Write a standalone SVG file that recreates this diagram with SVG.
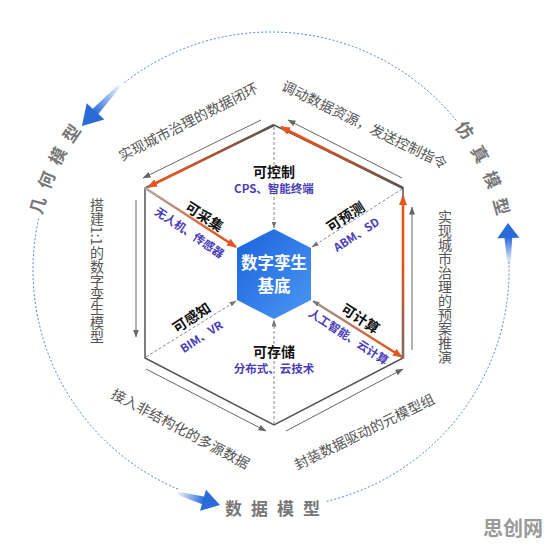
<svg xmlns="http://www.w3.org/2000/svg" width="547" height="547" viewBox="0 0 547 547">
<style>
text{font-family:"Noto Sans CJK SC","Noto Sans",sans-serif}
.edge{fill:none;stroke:#555;stroke-width:1.5}
.thin{fill:none;stroke:#666;stroke-width:1;marker-end:url(#ah-gray)}
.dash{fill:none;stroke:#888;stroke-width:1;stroke-dasharray:3 2;marker-end:url(#ah-dash)}
.orng{fill:none;stroke-width:2.6;marker-end:url(#ah-orange)}
.dot{fill:none;stroke:#4d7fd4;stroke-width:1;stroke-dasharray:2 2}
.side{font-size:14px;fill:#555}
.vside{font-size:14px;fill:#555;writing-mode:vertical-rl}
.lab{font-size:14px;font-weight:700;fill:#111}
.sub{font-size:11.5px;font-weight:700;fill:#4a3db8}
.ring{font-size:17px;font-weight:700;fill:#777}
.core{font-size:16.5px;font-weight:700;fill:#fff}
</style>
<defs>
<marker id="ah-gray" viewBox="0 0 8 6" refX="7.5" refY="3" markerWidth="8" markerHeight="6" markerUnits="userSpaceOnUse" orient="auto"><path d="M0,0 L8,3 L0,6 z" fill="#666"/></marker>
<marker id="ah-orange" viewBox="0 0 10 8" refX="9" refY="4" markerWidth="10" markerHeight="8" markerUnits="userSpaceOnUse" orient="auto"><path d="M0,0 L10,4 L0,8 z" fill="#e4541e"/></marker>
<marker id="ah-dash" viewBox="0 0 7 5" refX="6.5" refY="2.5" markerWidth="7" markerHeight="5" markerUnits="userSpaceOnUse" orient="auto-start-reverse"><path d="M0,0 L7,2.5 L0,5 z" fill="#777"/></marker>
<linearGradient id="gR" gradientUnits="userSpaceOnUse" x1="403" y1="358" x2="403" y2="196"><stop offset="0" stop-color="#7a6a66"/><stop offset="0.6" stop-color="#e4541e"/></linearGradient>
<linearGradient id="gTR" gradientUnits="userSpaceOnUse" x1="403" y1="188" x2="281" y2="127"><stop offset="0" stop-color="#555"/><stop offset="0.8" stop-color="#e4541e"/></linearGradient>
<linearGradient id="gTL" gradientUnits="userSpaceOnUse" x1="274" y1="125" x2="148" y2="187"><stop offset="0" stop-color="#555"/><stop offset="0.8" stop-color="#e4541e"/></linearGradient>
<linearGradient id="gUL" gradientUnits="userSpaceOnUse" x1="145" y1="188" x2="236" y2="247"><stop offset="0" stop-color="#aaa"/><stop offset="0.85" stop-color="#e4541e"/></linearGradient>
<linearGradient id="gLR" gradientUnits="userSpaceOnUse" x1="312" y1="300" x2="402" y2="357"><stop offset="0" stop-color="#999"/><stop offset="0.9" stop-color="#e4541e"/></linearGradient>
<linearGradient id="gHex" x1="0" y1="0" x2="1" y2="1"><stop offset="0" stop-color="#1a62dc"/><stop offset="1" stop-color="#4b98f3"/></linearGradient>
<linearGradient id="gTail" x1="0" y1="0" x2="1" y2="0"><stop offset="0" stop-color="#2a6bd8" stop-opacity="0.05"/><stop offset="1" stop-color="#2a6bd8"/></linearGradient>
</defs>

<!-- outer dotted ring -->
<g id="ring">
<path class="dot" d="M124.5,82.5 A238,238 0 0 1 457.3,121.8"/>
<path class="dot" d="M178,489.1 A238,238 0 0 1 39.1,216.5"/>
<path class="dot" d="M508.9,261.7 A238,238 0 0 1 326.6,501.4"/>
</g>

<g id="arrow-geo" transform="translate(120,85) rotate(132.8)">
<path d="M0,-1.5 L38,-4 L38,4 L0,1.5 z" fill="url(#gTail)"/>
<path d="M36,-12 L56,0 L36,12 z" fill="#2a6bd8"/>
</g>
<g id="arrow-data" transform="translate(177,493) rotate(15.6)">
<path d="M0,-1.5 L28,-4 L28,4 L0,1.5 z" fill="url(#gTail)"/>
<path d="M27,-11 L44.6,0 L27,11 z" fill="#2a6bd8"/>
</g>
<g id="arrow-sim" transform="translate(509,264) rotate(-91.4)">
<path d="M0,-1.5 L27,-4 L27,4 L0,1.5 z" fill="url(#gTail)"/>
<path d="M26,-11 L41,0 L26,11 z" fill="#2a6bd8"/>
</g>

<g id="label-geo">
<text class="ring" text-anchor="middle" dominant-baseline="central" transform="translate(36.8,205.1) rotate(-74.5)">几</text>
<text class="ring" text-anchor="middle" dominant-baseline="central" transform="translate(45.4,179.8) rotate(-68.2)">何</text>
<text class="ring" text-anchor="middle" dominant-baseline="central" transform="translate(56.6,155.5) rotate(-61.9)">模</text>
<text class="ring" text-anchor="middle" dominant-baseline="central" transform="translate(70.5,132.7) rotate(-55.6)">型</text>
</g>
<g id="label-sim">
<text class="ring" text-anchor="middle" dominant-baseline="central" transform="translate(465.7,129.6) rotate(54.2)">仿</text>
<text class="ring" text-anchor="middle" dominant-baseline="central" transform="translate(480.9,153.6) rotate(61)">真</text>
<text class="ring" text-anchor="middle" dominant-baseline="central" transform="translate(493.2,179.3) rotate(67.8)">模</text>
<text class="ring" text-anchor="middle" dominant-baseline="central" transform="translate(502.4,206.3) rotate(74.6)">型</text>
</g>
<g id="label-data">
<text class="ring" x="277" y="507" text-anchor="middle" dominant-baseline="central" letter-spacing="9">数据模型</text>
</g>

<!-- outer hexagon -->
<g id="outer-hex">
<polygon class="edge" points="274,125 403,188 403,358 274,425 145,358 145,188"/>
</g>

<!-- connectors -->
<g id="connectors">
<line class="thin" x1="261" y1="120" x2="143" y2="178"/>
<line class="thin" x1="402" y1="178" x2="288" y2="120"/>
<line class="thin" x1="136" y1="200" x2="136" y2="337"/>
<line class="thin" x1="412" y1="350" x2="412" y2="207"/>
<line class="thin" x1="146" y1="369" x2="266" y2="431"/>
<line class="thin" x1="286" y1="431" x2="403" y2="369"/>

<line class="orng" stroke="url(#gR)" x1="403" y1="358" x2="403" y2="196"/>
<line class="orng" stroke="url(#gTR)" x1="403" y1="188" x2="281" y2="127"/>
<line class="orng" stroke="url(#gTL)" x1="274" y1="125" x2="148" y2="187"/>
<line class="orng" stroke="url(#gUL)" x1="145" y1="188" x2="236" y2="247"/>
<line class="orng" stroke="url(#gLR)" stroke-width="2" x1="313" y1="301" x2="402" y2="357" marker-start="url(#ah-dash)"/>

<line class="dash" x1="274" y1="127" x2="274" y2="228"/>
<line class="dash" x1="402" y1="189" x2="312" y2="247"/>
<line class="dash" x1="146" y1="357" x2="236" y2="301"/>
<line class="dash" x1="274" y1="424" x2="274" y2="320"/>
</g>

<!-- side texts -->
<g id="side-texts">
<text class="side" text-anchor="middle" dominant-baseline="central" transform="translate(188,121) rotate(-27)">实现城市治理的数据闭环</text>
<text class="side" text-anchor="middle" dominant-baseline="central" transform="translate(365,124) rotate(26)">调动数据资源，发送控制指令</text>
<text class="side" text-anchor="middle" dominant-baseline="central" transform="translate(181,428) rotate(28)">接入非结构化的多源数据</text>
<text class="side" text-anchor="middle" dominant-baseline="central" transform="translate(364,431) rotate(-26)">封装数据驱动的元模型组</text>
<text class="vside" x="97" y="198">搭建1:1的数字孪生模型</text>
<text class="vside" x="445" y="210">实现城市治理的预案推演</text>
</g>

<g id="node-control">
<text class="lab" x="274" y="171" text-anchor="middle" dominant-baseline="central">可控制</text>
<text class="sub" x="274" y="188" text-anchor="middle" dominant-baseline="central">CPS、智能终端</text>
</g>
<g id="node-collect">
<text class="lab" text-anchor="middle" dominant-baseline="central" transform="translate(205,216) rotate(33)">可采集</text>
<text class="sub" text-anchor="middle" dominant-baseline="central" transform="translate(190,232) rotate(34)">无人机、传感器</text>
</g>
<g id="node-predict">
<text class="lab" text-anchor="middle" dominant-baseline="central" transform="translate(345,216) rotate(-33)">可预测</text>
<text class="sub" text-anchor="middle" dominant-baseline="central" transform="translate(356,234) rotate(-33)">ABM、SD</text>
</g>
<g id="node-sense">
<text class="lab" text-anchor="middle" dominant-baseline="central" transform="translate(191,317) rotate(-33)">可感知</text>
<text class="sub" text-anchor="middle" dominant-baseline="central" transform="translate(201,336) rotate(-33)">BIM、VR</text>
</g>
<g id="node-store">
<text class="lab" x="274" y="351" text-anchor="middle" dominant-baseline="central">可存储</text>
<text class="sub" x="274" y="368" text-anchor="middle" dominant-baseline="central">分布式、云技术</text>
</g>
<g id="node-compute">
<text class="lab" text-anchor="middle" dominant-baseline="central" transform="translate(361,318) rotate(33)">可计算</text>
<text class="sub" text-anchor="middle" dominant-baseline="central" transform="translate(349,336) rotate(33)">人工智能、云计算</text>
</g>

<g id="node-core">
<polygon points="274,229 311,248 311,300 274,319 237,300 237,248" fill="url(#gHex)"/>
<text class="core" x="274" y="262" text-anchor="middle" dominant-baseline="central">数字孪生</text>
<text class="core" x="274" y="285" text-anchor="middle" dominant-baseline="central">基底</text>
</g>

<g id="logo">
<text x="513" y="527" text-anchor="middle" dominant-baseline="central" font-size="20" font-weight="700" fill="#9a9a9a">思创网</text>
</g>
</svg>
